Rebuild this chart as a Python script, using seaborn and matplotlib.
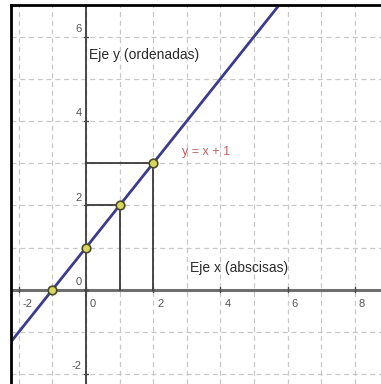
import matplotlib
matplotlib.use("Agg")
import matplotlib.pyplot as plt
import seaborn as sns
import pandas as pd

# Line y = x + 1 (endpoints beyond the visible window)
line_x = [-3, 9]
line_y = [-2, 10]

# Marked points on the line
point_x = [-1, 0, 1, 2]
point_y = [0, 1, 2, 3]

# Points projected onto both axes with guide segments
guide_x = [1, 2]
guide_y = [2, 3]

x_ticks = [-2, 0, 2, 4, 6, 8]
y_ticks = [-2, 0, 2, 4, 6]

sns.set_theme(style="white")
plt.rcParams['font.family'] = ['Liberation Sans', 'DejaVu Sans']

fig = plt.figure(figsize=(3.81, 3.84), dpi=100)
ax = fig.add_axes([11 / 381, 0, 1 - 11 / 381, 1 - 5 / 384])

xmin, xmax = -2.23, 8.78
ymin, ymax = -2.23, 6.75
ax.set_xlim(xmin, xmax)
ax.set_ylim(ymin, ymax)

# dashed grid at every unit
for gx in range(-2, 9):
    ax.axvline(gx, color="#c8c8c8", lw=0.9, ls=(0, (4, 3)), zorder=0)
for gy in range(-2, 7):
    ax.axhline(gy, color="#c8c8c8", lw=0.9, ls=(0, (4, 3)), zorder=0)

# axes
ax.axhline(0, color="#6e6e6e", lw=2.2, zorder=1)
ax.axvline(0, color="#3a3a3a", lw=1.3, zorder=1)

# guide segments from points to axes
for gx, gy in zip(guide_x, guide_y):
    ax.plot([gx, gx], [0, gy], color="#3a3a3a", lw=1.3, zorder=1)
    ax.plot([0, gx], [gy, gy], color="#3a3a3a", lw=1.3, zorder=1)

line_df = pd.DataFrame({"x": line_x, "y": line_y})
sns.lineplot(data=line_df, x="x", y="y", ax=ax, color="#3c3c8c", lw=2.0, zorder=2)

pts_df = pd.DataFrame({"x": point_x, "y": point_y})
sns.scatterplot(data=pts_df, x="x", y="y", ax=ax, s=38, color="#d8d860",
                edgecolor="#4a4a2a", linewidth=1.2, zorder=3)

# tick labels drawn next to the axes
for t in x_ticks:
    ax.plot([t, t], [-0.06, 0.06], color="#4a4a4a", lw=1, zorder=1)
    ax.text(t + 0.12, -0.22, str(t), fontsize=8,
            color="#555555", ha="left", va="top")
for t in y_ticks:
    ax.plot([-0.05, 0.05], [t, t], color="#4a4a4a", lw=1, zorder=1)
    ax.text(-0.13, t + 0.07, str(t), fontsize=8, color="#555555",
            ha="right", va="bottom")

ax.text(0.09, 5.57, "Eje y (ordenadas)", fontsize=10, color="#2a2a2a",
        ha="left", va="center")
ax.text(2.85, 3.27, "y = x + 1", fontsize=9, color="#c06060",
        ha="left", va="center")
ax.text(3.1, 0.52, "Eje x (abscisas)", fontsize=10, color="#2a2a2a",
        ha="left", va="center")

ax.set_xlabel("")
ax.set_ylabel("")
ax.set_xticks([])
ax.set_yticks([])
for side in ["right", "bottom"]:
    ax.spines[side].set_visible(False)
for side in ["left", "top"]:
    ax.spines[side].set_color("black")
    ax.spines[side].set_linewidth(2)

fig.savefig("out.png", dpi=100)
